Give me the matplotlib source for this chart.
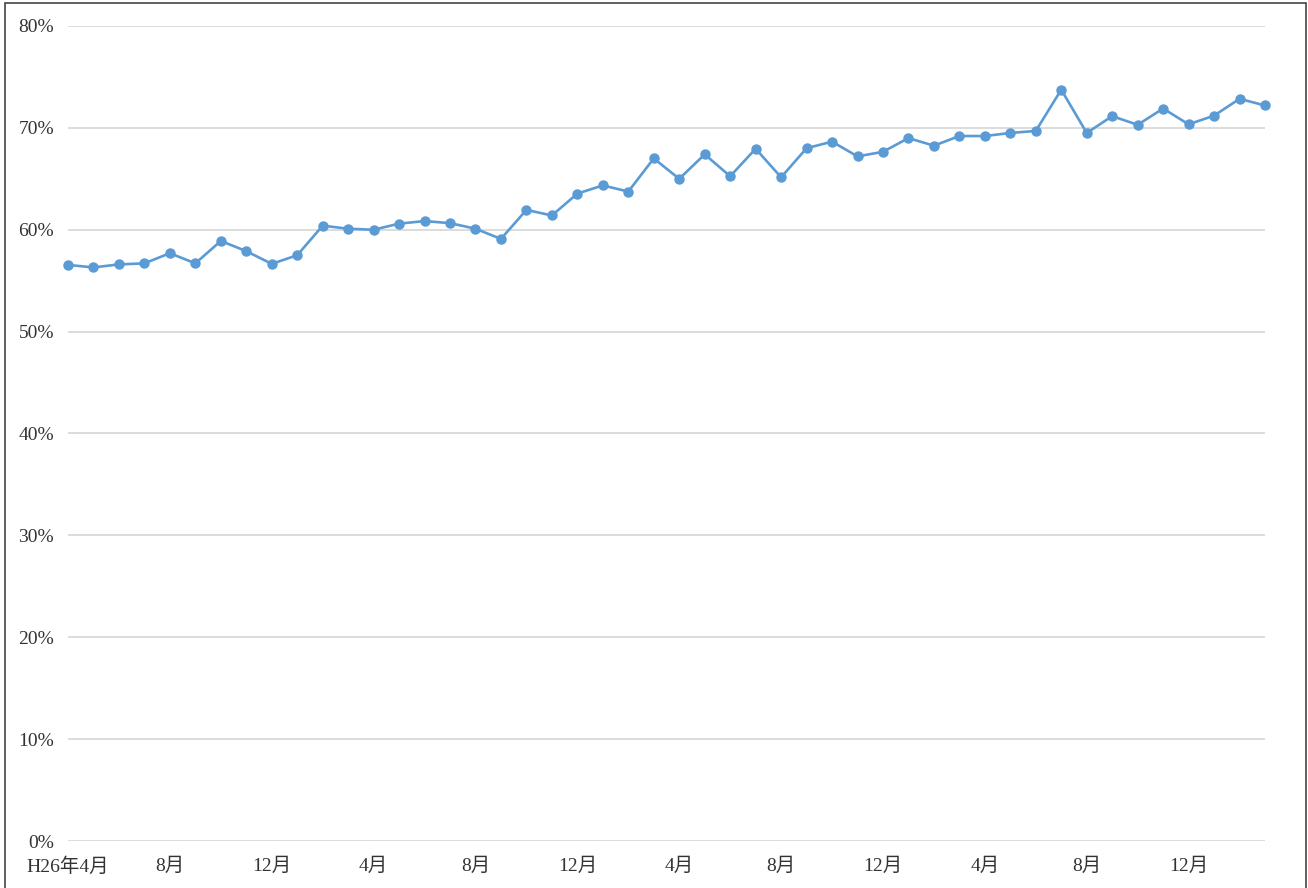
import matplotlib.pyplot as plt
from matplotlib.patches import Rectangle
from matplotlib.ticker import FuncFormatter

plt.rcParams['font.family'] = ['Liberation Serif', 'Noto Sans CJK JP', 'DejaVu Sans']

# monthly rate, H26 April onward (%)
rate = [56.55, 56.3, 56.6, 56.7, 57.7, 56.7, 58.9, 57.9, 56.65, 57.5,
        60.4, 60.1, 60.0, 60.6, 60.85, 60.65, 60.1, 59.1, 61.95, 61.4,
        63.55, 64.35, 63.75, 67.0, 65.0, 67.4, 65.25, 67.95, 65.15, 68.0,
        68.65, 67.2, 67.65, 69.0, 68.25, 69.2, 69.2, 69.5, 69.7, 73.75,
        69.5, 71.15, 70.3, 71.9, 70.35, 71.2, 72.85, 72.2]
tick_pos = [0, 4, 8, 12, 16, 20, 24, 28, 32, 36, 40, 44]
tick_labels = ['H26年4月', '8月', '12月', '4月', '8月', '12月',
               '4月', '8月', '12月', '4月', '8月', '12月']
y_ticks = [0, 10, 20, 30, 40, 50, 60, 70, 80]

W, H = 1308, 888
fig = plt.figure(figsize=(W / 100, H / 100), dpi=100)
ax = fig.add_axes([68 / W, 47 / H, (1265 - 68) / W, (841 - 26) / H])

ax.plot(range(len(rate)), rate, color='#5b9bd5', lw=1.9,
        marker='o', ms=6.5, zorder=3, clip_on=False)

ax.set_xlim(0, len(rate) - 1)
ax.set_ylim(0, 80)
ax.set_yticks(y_ticks)
ax.yaxis.set_major_formatter(FuncFormatter(lambda v, p: f'{v:.0f}%'))
ax.set_xticks(tick_pos)
ax.set_xticklabels(tick_labels)
ax.grid(axis='y', color='#d9d9d9', lw=1.3)
ax.set_axisbelow(True)
ax.tick_params(length=0, labelsize=14, colors='#333333')
ax.tick_params(axis='y', pad=10)
ax.tick_params(axis='x', pad=12)
for s in ax.spines.values():
    s.set_visible(False)

# outer frame (bottom edge runs off the canvas)
fig.patches.append(Rectangle((5 / W, -0.05), (1306 - 5) / W, 1.05 - 3.5 / H,
                             transform=fig.transFigure, fill=False,
                             edgecolor='#444444', lw=1.2))

fig.savefig('out.png', dpi=100)
